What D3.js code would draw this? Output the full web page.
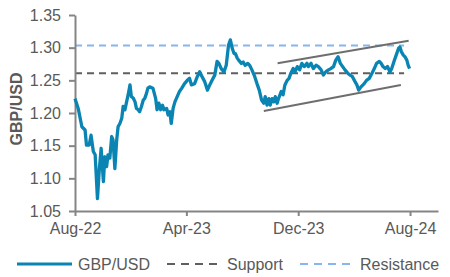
<!DOCTYPE html>
<html>
<head>
<meta charset="utf-8">
<script src="https://cdn.jsdelivr.net/npm/d3@7"></script>
<style>
  html, body { margin: 0; padding: 0; background: #fff; }
  svg { display: block; }
  text { font-family: "Liberation Sans", Arial, sans-serif; }
</style>
</head>
<body>
<script>
// ---- Data ----
const dates = [
"2022-08-01","2022-08-08","2022-08-16","2022-08-23","2022-08-26","2022-09-01","2022-09-05","2022-09-10","2022-09-14","2022-09-19",
"2022-09-23","2022-09-27","2022-10-02","2022-10-05","2022-10-09","2022-10-12","2022-10-16","2022-10-20","2022-10-23","2022-10-27",
"2022-10-31","2022-11-03","2022-11-07","2022-11-11","2022-11-14","2022-11-18","2022-11-21","2022-11-25","2022-11-29","2022-12-02",
"2022-12-06","2022-12-10","2022-12-13","2022-12-17","2022-12-20","2022-12-24","2022-12-28","2022-12-31","2023-01-04","2023-01-07",
"2023-01-11","2023-01-18","2023-01-24","2023-01-27","2023-01-31","2023-02-04","2023-02-08","2023-02-11","2023-02-17","2023-02-20",
"2023-02-24","2023-02-27","2023-03-03","2023-03-07","2023-03-12","2023-03-17","2023-03-22","2023-03-28","2023-04-03","2023-04-08",
"2023-04-12","2023-04-19","2023-04-25","2023-04-30","2023-05-05","2023-05-11","2023-05-17","2023-05-22","2023-05-27","2023-06-02",
"2023-06-07","2023-06-11","2023-06-16","2023-06-22","2023-06-27","2023-07-02","2023-07-06","2023-07-10","2023-07-14","2023-07-17",
"2023-07-21","2023-07-24","2023-07-30","2023-08-03","2023-08-07","2023-08-13","2023-08-17","2023-08-22","2023-08-28","2023-09-02",
"2023-09-07","2023-09-12","2023-09-17","2023-09-20","2023-09-24","2023-09-28","2023-10-01","2023-10-05","2023-10-09","2023-10-12",
"2023-10-16","2023-10-19","2023-10-25","2023-10-29","2023-11-02","2023-11-07","2023-11-11","2023-11-15","2023-11-20","2023-11-24",
"2023-11-29","2023-12-04","2023-12-09","2023-12-14","2023-12-20","2023-12-23","2023-12-29","2024-01-03","2024-01-09","2024-01-14",
"2024-01-20","2024-01-25","2024-01-30","2024-02-05","2024-02-10","2024-02-16","2024-02-21","2024-02-26","2024-03-02","2024-03-07",
"2024-03-12","2024-03-18","2024-03-23","2024-03-28","2024-04-03","2024-04-07","2024-04-11","2024-04-16","2024-04-23","2024-04-28",
"2024-05-04","2024-05-10","2024-05-15","2024-05-20","2024-05-26","2024-05-30","2024-06-03","2024-06-08","2024-06-13","2024-06-18",
"2024-06-22","2024-06-27","2024-07-02","2024-07-07","2024-07-10","2024-07-13","2024-07-17","2024-07-21","2024-07-25","2024-07-28",
"2024-07-31"
];
const gbpusd = [
1.222,1.207,1.179,1.174,1.151,1.151,1.166,1.141,1.136,1.069,
1.113,1.146,1.095,1.133,1.118,1.136,1.131,1.164,1.159,1.115,
1.159,1.179,1.184,1.192,1.210,1.205,1.215,1.228,1.243,1.225,
1.223,1.217,1.207,1.205,1.202,1.210,1.220,1.222,1.230,1.238,
1.240,1.238,1.222,1.205,1.215,1.205,1.212,1.205,1.207,1.197,
1.202,1.184,1.207,1.217,1.225,1.233,1.238,1.245,1.250,1.253,
1.243,1.245,1.256,1.263,1.256,1.248,1.235,1.243,1.250,1.258,
1.279,1.276,1.268,1.263,1.273,1.304,1.312,1.299,1.291,1.291,
1.284,1.281,1.276,1.278,1.273,1.276,1.273,1.266,1.256,1.245,
1.235,1.220,1.215,1.225,1.212,1.222,1.212,1.222,1.217,1.225,
1.215,1.222,1.233,1.228,1.243,1.250,1.253,1.261,1.268,1.263,
1.271,1.266,1.276,1.271,1.276,1.271,1.276,1.268,1.273,1.271,
1.266,1.258,1.263,1.266,1.268,1.271,1.281,1.286,1.276,1.271,
1.266,1.261,1.258,1.256,1.248,1.243,1.235,1.240,1.245,1.250,
1.253,1.261,1.268,1.276,1.279,1.276,1.271,1.268,1.271,1.263,
1.268,1.279,1.289,1.299,1.301,1.294,1.289,1.286,1.281,1.273,
1.268
];
const supportLevel = 1.261;
const resistanceLevel = 1.3035;
const levelSpan = ["2022-08-01", "2024-07-19"];
const upperTrendDates = ["2023-10-17", "2024-07-29"];
const upperTrendValues = [1.276, 1.3107];
const lowerTrendDates = ["2023-09-17", "2024-07-12"];
const lowerTrendValues = [1.203, 1.2429];
const yTicks = [1.05, 1.10, 1.15, 1.20, 1.25, 1.30, 1.35];
const xTickDates = ["2022-08-01", "2023-04-01", "2023-12-01", "2024-08-01"];
const xDomain = ["2022-08-01", "2024-10-01"];
const legendItems = ["GBP/USD", "Support", "Resistance"];

// ---- Setup ----
const W = 450, H = 277;
const parse = d3.timeParse("%Y-%m-%d");
const C = { line: "#0A85B3", support: "#5F5F5F", resistance: "#86B6EE", trend: "#6E6E6E", axis: "#858585", text: "#595959" };

const svg = d3.select("body").append("svg").attr("width", W).attr("height", H);

const x = d3.scaleTime().domain(xDomain.map(parse)).range([75, 438]);
const y = d3.scaleLinear().domain([1.05, 1.35]).range([211, 15]);

// Support / resistance
const lvl = (v, color) => svg.append("line")
  .attr("x1", x(parse(levelSpan[0]))).attr("x2", x(parse(levelSpan[1])))
  .attr("y1", y(v)).attr("y2", y(v))
  .attr("stroke", color).attr("stroke-width", 2).attr("stroke-dasharray", "7,5");
lvl(resistanceLevel, C.resistance);
lvl(supportLevel, C.support);

// Trend lines
const trend = (ds, vs) => svg.append("line")
  .attr("x1", x(parse(ds[0]))).attr("y1", y(vs[0]))
  .attr("x2", x(parse(ds[1]))).attr("y2", y(vs[1]))
  .attr("stroke", C.trend).attr("stroke-width", 2);
trend(upperTrendDates, upperTrendValues);
trend(lowerTrendDates, lowerTrendValues);

// Axes
const yAxis = svg.append("g").attr("transform", "translate(75,0)")
  .call(d3.axisLeft(y).tickValues(yTicks).tickFormat(d3.format(".2f")).tickSize(6).tickSizeOuter(0).tickPadding(8));
const xAxis = svg.append("g").attr("transform", "translate(0,211)")
  .call(d3.axisBottom(x).tickValues(xTickDates.map(parse)).tickFormat(d3.timeFormat("%b-%y")).tickSize(5).tickSizeOuter(0).tickPadding(7));
[yAxis, xAxis].forEach(g => {
  g.select(".domain").attr("stroke", C.axis).attr("stroke-width", 2);
  g.selectAll(".tick line").attr("stroke", C.axis).attr("stroke-width", 2);
  g.selectAll("text").attr("fill", C.text).style("font-size", "16px").style("font-family", "'Liberation Sans', Arial, sans-serif");
});

// Y label
svg.append("text")
  .attr("transform", "translate(22,109) rotate(-90)")
  .attr("text-anchor", "middle")
  .attr("fill", C.text).style("font-size", "16px").style("font-weight", "bold")
  .text("GBP/USD");

// Data line
const series = dates.map((d, i) => ({ date: parse(d), value: gbpusd[i] }));
svg.append("path").datum(series)
  .attr("fill", "none").attr("stroke", C.line).attr("stroke-width", 3.3)
  .attr("stroke-linejoin", "round")
  .attr("d", d3.line().x(d => x(d.date)).y(d => y(d.value)));

// Legend
const legY = 264;
const leg = [
  { x1: 17, x2: 72, tx: 78, color: C.line, dash: null, w: 3 },
  { x1: 167, x2: 217, tx: 227, color: C.support, dash: "8,6", w: 2 },
  { x1: 300, x2: 350, tx: 360, color: C.resistance, dash: "8,6", w: 2 }
];
leg.forEach((l, i) => {
  svg.append("line").attr("x1", l.x1).attr("x2", l.x2).attr("y1", legY).attr("y2", legY)
    .attr("stroke", l.color).attr("stroke-width", l.w).attr("stroke-dasharray", l.dash);
  svg.append("text").attr("x", l.tx).attr("y", legY).attr("dy", "0.35em")
    .attr("fill", C.text).style("font-size", "16px").text(legendItems[i]);
});
</script>
</body>
</html>
